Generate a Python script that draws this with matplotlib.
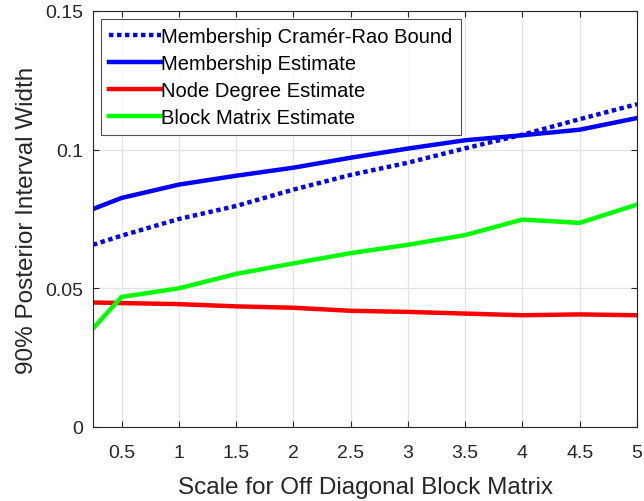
import matplotlib
matplotlib.use("Agg")
import matplotlib.pyplot as plt

plt.rcParams['font.family'] = ['Liberation Sans', 'DejaVu Sans']

scale = [0.25, 0.5, 1, 1.5, 2, 2.5, 3, 3.5, 4, 4.5, 5]
crb = [0.0657, 0.0690, 0.0750, 0.0797, 0.0856, 0.0909, 0.0953, 0.1005, 0.1054, 0.1110, 0.1164]
membership = [0.0786, 0.0826, 0.0874, 0.0906, 0.0935, 0.0971, 0.1004, 0.1034, 0.1052, 0.1072, 0.1114]
node_degree = [0.0449, 0.0447, 0.0443, 0.0435, 0.0430, 0.0419, 0.0415, 0.0409, 0.0403, 0.0406, 0.0403]
block_matrix = [0.0355, 0.0469, 0.0500, 0.0552, 0.0590, 0.0627, 0.0657, 0.0692, 0.0748, 0.0736, 0.0802]

xticks = [0.5, 1, 1.5, 2, 2.5, 3, 3.5, 4, 4.5, 5]
xticklabels = ["0.5", "1", "1.5", "2", "2.5", "3", "3.5", "4", "4.5", "5"]
yticks = [0, 0.05, 0.1, 0.15]
yticklabels = ["0", "0.05", "0.1", "0.15"]

fig = plt.figure(figsize=(6.44, 5.02), dpi=100)
ax = fig.add_axes([93/644, 1 - 428/502, (637 - 93)/644, (428 - 12)/502])

ax.plot(scale, crb, color="#0000ff", lw=3.2, ls=(0, (1, 0.8)), label="Membership Cram\u00e9r-Rao Bound")
ax.plot(scale, membership, color="#0000ff", lw=3.2, label="Membership Estimate")
ax.plot(scale, node_degree, color="#ff0000", lw=3.2, label="Node Degree Estimate")
ax.plot(scale, block_matrix, color="#00ff00", lw=3.2, label="Block Matrix Estimate")

ax.set_xlim(0.25, 5)
ax.set_ylim(0, 0.15)
ax.set_xticks(xticks)
ax.set_xticklabels(xticklabels)
ax.set_yticks(yticks)
ax.set_yticklabels(yticklabels)
ax.grid(True, color="#e3e3e3", lw=0.9)
ax.set_axisbelow(True)
ax.tick_params(direction="in", top=True, right=True, labelsize=14, colors="#262626", length=4)
ax.tick_params(axis="x", pad=12)
ax.tick_params(axis="y", pad=7)
for s in ax.spines.values():
    s.set_color("#262626")
    s.set_linewidth(0.8)

ax.set_xlabel("Scale for Off Diagonal Block Matrix", fontsize=17.5, color="#262626", labelpad=11)
ax.set_ylabel("90% Posterior Interval Width", fontsize=17.5, color="#262626", labelpad=5)

leg = ax.legend(loc="upper left", fontsize=14.5, frameon=True, fancybox=False, edgecolor="#262626",
                handlelength=2.6, handletextpad=0.0, borderpad=0.4, labelspacing=0.4,
                borderaxespad=0.4)
leg.get_frame().set_linewidth(0.8)

fig.savefig("out.png", dpi=100)
